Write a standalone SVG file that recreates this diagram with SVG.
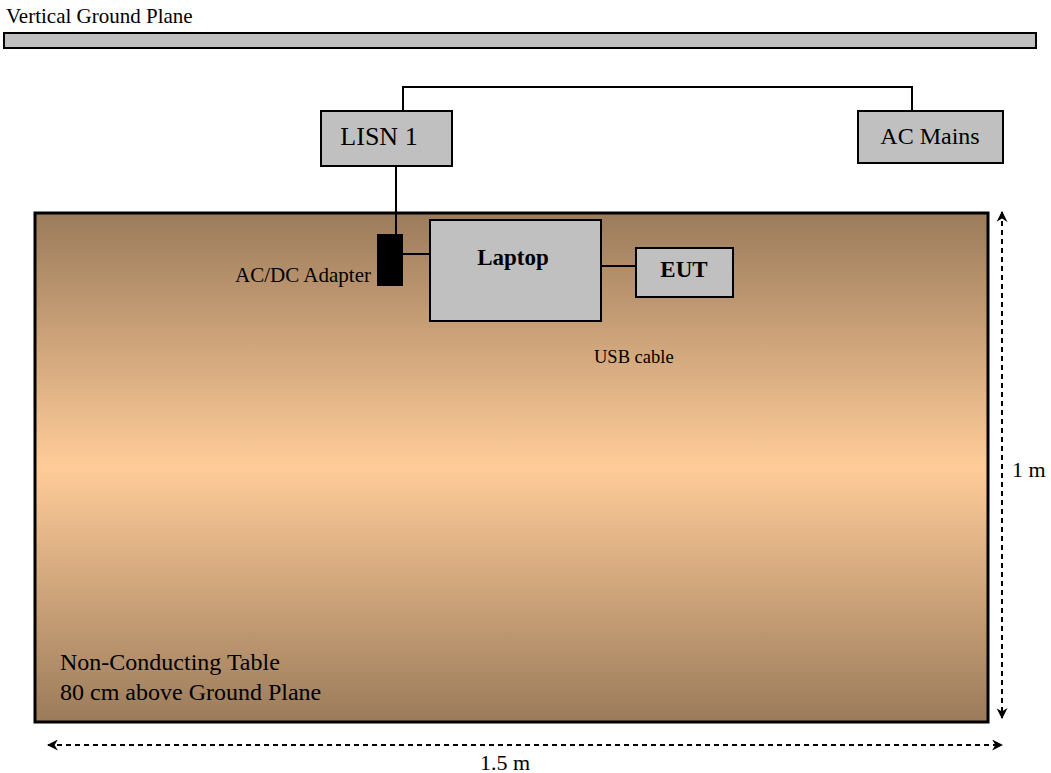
<svg xmlns="http://www.w3.org/2000/svg" width="1051" height="773" viewBox="0 0 1051 773">
<defs>
<linearGradient id="tableGrad" x1="0" y1="0" x2="0" y2="1">
<stop offset="0" stop-color="#9b7b5b"/>
<stop offset="0.5" stop-color="#ffcc99"/>
<stop offset="1" stop-color="#9b7b5b"/>
</linearGradient>
<marker id="arr" viewBox="0 0 10 10" refX="9" refY="5" markerWidth="5.5" markerHeight="5.5" orient="auto-start-reverse" markerUnits="strokeWidth">
<path d="M0,0 L10,5 L0,10 L3,5 z" fill="#000"/>
</marker>
<style>
.t{font-family:"Liberation Serif","Times New Roman",serif;fill:#000}
.box{fill:#c0c0c0;stroke:#000;stroke-width:2}
.wire{fill:none;stroke:#000;stroke-width:2}
.dim{fill:none;stroke:#000;stroke-width:2;stroke-dasharray:5,4}
</style>
</defs>
<rect width="1051" height="773" fill="#fff"/>
<g id="ground-plane">
<text class="t" x="6" y="23" font-size="21">Vertical Ground Plane</text>
<rect class="box" x="4" y="33" width="1032" height="15"/>
</g>
<g id="table">
<rect x="35" y="213" width="953" height="509" fill="url(#tableGrad)" stroke="#000" stroke-width="3"/>
<text class="t" x="60" y="670" font-size="24">Non-Conducting Table</text>
<text class="t" x="60" y="700" font-size="24">80 cm above Ground Plane</text>
</g>
<g id="connectors">
<polyline class="wire" points="403,111 403,87 912,87 912,111"/>
<line class="wire" x1="396" y1="166" x2="396" y2="234"/>
<line class="wire" x1="403" y1="254" x2="430" y2="254"/>
<line class="wire" x1="601" y1="266" x2="636" y2="266"/>
<line class="dim" x1="1002" y1="212" x2="1002" y2="718" marker-start="url(#arr)" marker-end="url(#arr)"/>
<line class="dim" x1="48" y1="745" x2="1002" y2="745" marker-start="url(#arr)" marker-end="url(#arr)"/>
</g>
<g id="lisn1">
<rect class="box" x="321" y="111" width="131" height="55"/>
<text class="t" x="379" y="145" font-size="26" text-anchor="middle">LISN 1</text>
</g>
<g id="ac-mains">
<rect class="box" x="858" y="111" width="145" height="52"/>
<text class="t" x="930" y="144" font-size="24" text-anchor="middle">AC Mains</text>
</g>
<g id="adapter">
<rect x="377" y="234" width="26" height="52" fill="#000"/>
<text class="t" x="371" y="282" font-size="21" text-anchor="end">AC/DC Adapter</text>
</g>
<g id="laptop">
<rect class="box" x="430" y="220" width="171" height="101" stroke-width="3"/>
<text class="t" x="513" y="265" font-size="23" font-weight="bold" text-anchor="middle">Laptop</text>
</g>
<g id="eut">
<rect class="box" x="636" y="248" width="97" height="49" stroke-width="3"/>
<text class="t" x="684" y="277" font-size="23" font-weight="bold" text-anchor="middle">EUT</text>
</g>
<g id="labels">
<text class="t" x="594" y="363" font-size="18.5">USB cable</text>
<text class="t" x="1012" y="477" font-size="22">1 m</text>
<text class="t" x="505" y="770" font-size="22" text-anchor="middle">1.5 m</text>
</g>
</svg>
